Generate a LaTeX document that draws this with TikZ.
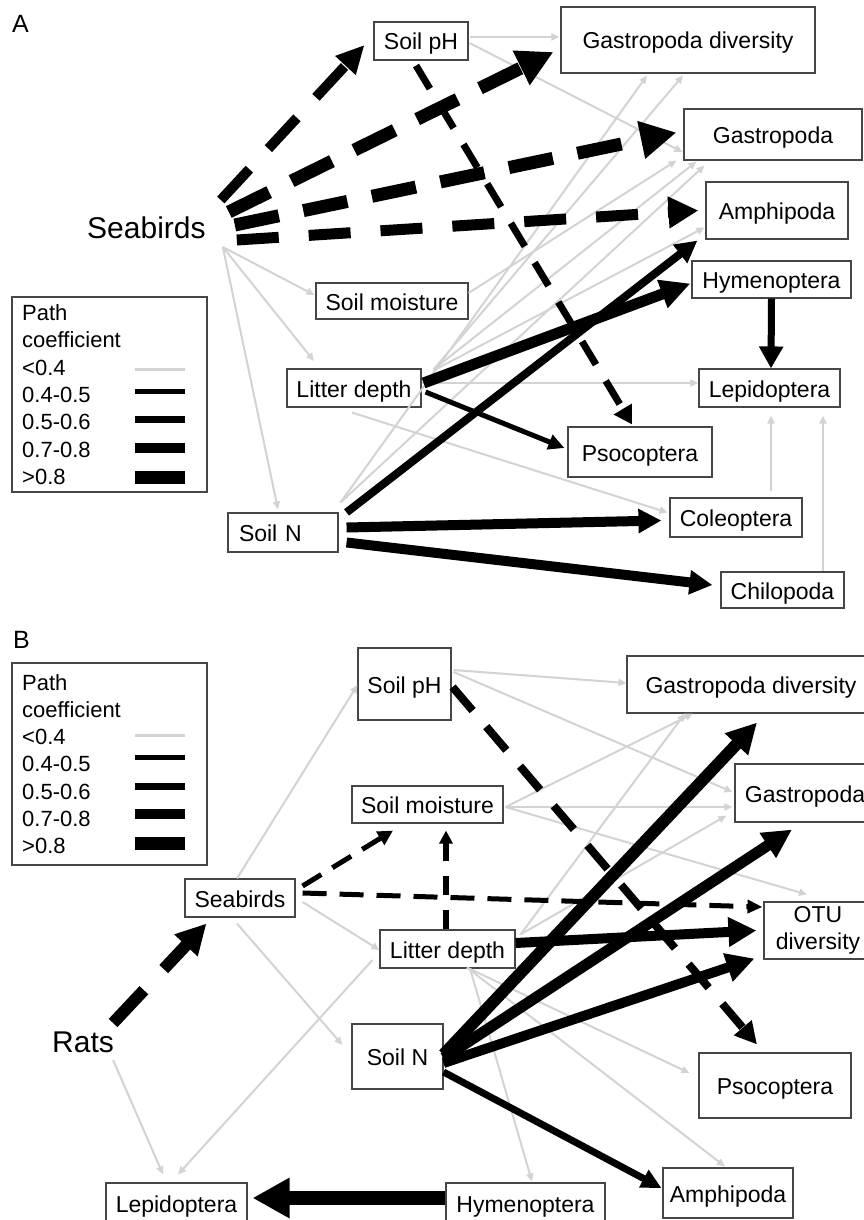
\documentclass[tikz,border=0pt]{standalone}
\usepackage{fontspec}
\setmainfont{Liberation Sans}
\usetikzlibrary{arrows.meta}
\definecolor{lg}{RGB}{211,211,211}
\definecolor{bd}{RGB}{70,70,70}
\begin{document}
\begin{tikzpicture}[x=1pt,y=-1pt,
  box/.style={draw=bd, line width=1.1pt, inner sep=0pt, font=\fontsize{23pt}{27pt}\selectfont, text height=18pt, text depth=0pt},
  box2/.style={draw=bd, line width=1.1pt, inner sep=0pt, align=center, font=\fontsize{23pt}{27pt}\selectfont},
  lab/.style={inner sep=0pt, anchor=base west, font=\fontsize{30pt}{34pt}\selectfont},
  leg/.style={inner sep=0pt, anchor=base west, font=\fontsize{22pt}{26pt}\selectfont},
  gr/.style={draw=lg, line width=2pt, -{Triangle[length=8pt,width=7pt]}},
  blk/.style={draw=black, line width=#1},
  hd/.style 2 args={-{Triangle[length=#1,width=#2]}}]
\useasboundingbox (0,0) rectangle (864,1220);

% ---------------- Panel A ----------------
\node[inner sep=0pt, anchor=base west, font=\fontsize{25pt}{30pt}\selectfont] (labA) at (12,33) {A};
\node[lab] (sbA) at (87,238) {Seabirds};
\node[box, minimum width=94pt, minimum height=38pt] (phA) at (421,41) {Soil pH};
\node[box, minimum width=254pt, minimum height=66pt] (gdA) at (688,40) {Gastropoda diversity};
\node[box, minimum width=178pt, minimum height=51pt] (gaA) at (773,134.5) {Gastropoda};
\node[box, minimum width=142pt, minimum height=57pt] (amA) at (777,210.5) {Amphipoda};
\node[box, minimum width=159pt, minimum height=37pt] (hyA) at (771.5,279.5) {Hymenoptera};
\node[box, minimum width=141pt, minimum height=38pt] (leA) at (769.5,388) {Lepidoptera};
\node[box, minimum width=144pt, minimum height=50pt] (psA) at (640,452) {Psocoptera};
\node[box, minimum width=132pt, minimum height=39pt] (coA) at (736,517.5) {Coleoptera};
\node[box, minimum width=123pt, minimum height=36pt] (chA) at (782.5,590) {Chilopoda};
\node[box, minimum width=152pt, minimum height=36pt] (smA) at (392,301) {Soil moisture};
\node[box, minimum width=134pt, minimum height=38pt] (ldA) at (354,388) {Litter depth};
\node[box, minimum height=39pt, inner xsep=11pt, text width=88pt, align=left] (snA) at (283,532.5) {Soil N};

% legend A
\node[draw=bd, line width=1.1pt, minimum width=195pt, minimum height=195pt, inner sep=0pt] (legA) at (109.5,394.5) {};
\node[leg] (lA1) at (22,320) {Path};
\node[leg] (lA2) at (22,347) {coefficient};
\node[leg] (lA3) at (22,375) {<0.4};
\node[leg] (lA4) at (22,402) {0.4-0.5};
\node[leg] (lA5) at (22,429) {0.5-0.6};
\node[leg] (lA6) at (22,457) {0.7-0.8};
\node[leg] (lA7) at (22,484) {>0.8};
\draw[lg, line width=3pt] (135,369) -- (185,369);
\draw[black, line width=5pt] (135,391) -- (185,391);
\draw[black, line width=7pt] (135,419) -- (185,419);
\draw[black, line width=10pt] (135,448) -- (185,448);
\draw[black, line width=13pt] (135,477) -- (185,477);

% gray paths A
\draw[gr] ([shift={(17,9)}]sbA.base east) -- ([shift={(-1,-6)}]smA.west);
\draw[gr] ([shift={(17,9)}]sbA.base east) -- ([shift={(-40,-27)}]ldA.center);
\draw[gr] ([shift={(17,9)}]sbA.base east) -- ([shift={(-5,-3)}]snA.north);
\draw[gr] ([shift={(1,-4)}]phA.east) -- ([shift={(-1,-3)}]gdA.west);
\draw[gr] ([shift={(1,2)}]phA.east) -- ([shift={(-1,17.5)}]gaA.west);
\draw[gr] ([shift={(2,-10)}]snA.north east) -- ([shift={(-41,2)}]gdA.south);
\draw[gr] ([shift={(12,1)}]ldA.north east) -- ([shift={(-5,2)}]gdA.south);
\draw[gr] ([shift={(0,-8)}]smA.east) -- ([shift={(-7,0)}]gaA.south west);
\draw[gr] ([shift={(12,1)}]ldA.north east) -- ([shift={(13,1)}]gaA.south west);
\draw[gr] ([shift={(2,-10)}]snA.north east) -- ([shift={(21,5)}]gaA.south west);
\draw[gr] ([shift={(12,2)}]ldA.north east) -- ([shift={(-1,17)}]amA.west);
\draw[gr] ([shift={(0,-5)}]ldA.east) -- ([shift={(0,-5)}]leA.west);
\draw[gr] ([shift={(-2,5)}]ldA.south) -- ([shift={(-2,-5)}]coA.west);
\draw[gr] ([shift={(35,-6)}]coA.north) -- ([shift={(1.5,8)}]leA.south);
\draw[gr] ([shift={(40.5,0)}]chA.north) -- ([shift={(53.5,8)}]leA.south);

% black paths A
\draw[blk=10pt, hd={28pt}{26pt}, dash pattern=on 42pt off 28pt] ([shift={(15,-38)}]sbA.base east) -- ([shift={(-9,4)}]phA.west);
\draw[blk=13pt, hd={36pt}{36pt}, dash pattern=on 45pt off 25pt] ([shift={(23,-26)}]sbA.base east) -- ([shift={(-7,12)}]gdA.west);
\draw[blk=13pt, hd={36pt}{36pt}, dash pattern=on 45pt off 25pt] ([shift={(29,-13)}]sbA.base east) -- ([shift={(-7,-2)}]gaA.west);
\draw[blk=11pt, hd={30pt}{30pt}, dash pattern=on 42pt off 30pt] ([shift={(31,2)}]sbA.base east) -- ([shift={(-7,0)}]amA.west);
\draw[blk=7pt, hd={18pt}{20pt}, dash pattern=on 27pt off 19pt] ([shift={(-5,5)}]phA.south) -- ([shift={(-8,-2)}]psA.north);
\draw[blk=7pt, hd={22pt}{23pt}] (hyA.south) -- ([shift={(1.5,0)}]leA.north);
\draw[blk=11pt, hd={30pt}{28pt}] ([shift={(2,-5)}]ldA.east) -- ([shift={(-1,4)}]hyA.west);
\draw[blk=5pt, hd={16pt}{15pt}] ([shift={(4,4)}]ldA.east) -- ([shift={(-3,-4)}]psA.west);
\draw[blk=8pt, hd={22pt}{22pt}] ([shift={(8,0)}]snA.north east) -- ([shift={(-8,1)}]amA.south west);
\draw[blk=10pt, hd={23pt}{23pt}] ([shift={(8,-5)}]snA.east) -- ([shift={(-8,3)}]coA.west);
\draw[blk=10pt, hd={23pt}{23pt}] ([shift={(8,10)}]snA.east) -- ([shift={(-8,-5)}]chA.west);

% ---------------- Panel B ----------------
\node[inner sep=0pt, anchor=base west, font=\fontsize{25pt}{30pt}\selectfont] (labB) at (13,648) {B};
\node[lab] (rats) at (52,1052) {Rats};
\node[box, minimum width=93pt, minimum height=72pt] (phB) at (404.5,684) {Soil pH};
\node[box, minimum width=248pt, minimum height=57pt] (gdB) at (751,684.5) {Gastropoda diversity};
\node[box, minimum width=140pt, minimum height=58pt] (gaB) at (805,793) {Gastropoda};
\node[box2, minimum width=108pt, minimum height=57pt] (otuB) at (818,930.5) {OTU\\diversity};
\node[box, minimum width=151pt, minimum height=37pt] (smB) at (427.5,804.5) {Soil moisture};
\node[box, minimum width=110pt, minimum height=38pt] (sbB) at (240,898) {Seabirds};
\node[box, minimum width=135pt, minimum height=38pt] (ldB) at (447.5,949) {Litter depth};
\node[box, minimum width=91pt, minimum height=65pt] (snB) at (397.5,1056.5) {Soil N};
\node[box, minimum width=152pt, minimum height=65pt] (psB) at (775,1085.5) {Psocoptera};
\node[box, minimum width=130pt, minimum height=50pt] (amB) at (728,1193) {Amphipoda};
\node[box, minimum width=159pt, minimum height=40pt] (hyB) at (525.5,1203) {Hymenoptera};
\node[box, minimum width=141pt, minimum height=40pt] (leB) at (176.5,1203) {Lepidoptera};

% legend B
\node[draw=bd, line width=1.1pt, minimum width=195pt, minimum height=202pt, inner sep=0pt] (legB) at (109.5,764) {};
\node[leg] (lB1) at (22,690) {Path};
\node[leg] (lB2) at (22,717) {coefficient};
\node[leg] (lB3) at (22,744) {<0.4};
\node[leg] (lB4) at (22,771) {0.4-0.5};
\node[leg] (lB5) at (22,799) {0.5-0.6};
\node[leg] (lB6) at (22,826) {0.7-0.8};
\node[leg] (lB7) at (22,853) {>0.8};
\draw[lg, line width=3pt] (135,735) -- (185,735);
\draw[black, line width=5pt] (135,757) -- (185,757);
\draw[black, line width=7pt] (135,786) -- (185,786);
\draw[black, line width=10pt] (135,814) -- (185,814);
\draw[black, line width=13pt] (135,843) -- (185,843);

% gray paths B
\draw[gr] ([shift={(-3,0)}]sbB.north) -- ([shift={(0,1)}]phB.west);
\draw[gr] ([shift={(7,4)}]sbB.east) -- ([shift={(0,1)}]ldB.west);
\draw[gr] ([shift={(-3,6)}]sbB.south) -- ([shift={(-9,-11.5)}]snB.west);
\draw[gr] ([shift={(-1,8)}]rats.base east) -- ([shift={(-13.5,-8)}]leB.north);
\draw[gr] ([shift={(-7,11)}]ldB.west) -- ([shift={(1.5,-8)}]leB.north);
\draw[gr] ([shift={(2,-14)}]phB.east) -- ([shift={(0,-1.5)}]gdB.west);
\draw[gr] ([shift={(2,-12)}]phB.east) -- ([shift={(-2,-1)}]gaB.west);
\draw[gr] ([shift={(2,2.5)}]smB.east) -- ([shift={(-58,0)}]gdB.south);
\draw[gr] ([shift={(2,2.5)}]smB.east) -- ([shift={(-2,14)}]gaB.west);
\draw[gr] ([shift={(2,2.5)}]smB.east) -- ([shift={(-11,-7)}]otuB.north);
\draw[gr] ([shift={(5,5)}]ldB.north east) -- ([shift={(-66,0)}]gdB.south);
\draw[gr] ([shift={(5,5)}]ldB.north east) -- ([shift={(-8,-7)}]gaB.south west);
\draw[gr] ([shift={(19.5,-1)}]ldB.south) -- ([shift={(-9,-12.5)}]psB.west);
\draw[gr] ([shift={(19.5,-1)}]ldB.south) -- ([shift={(-3,-1)}]amB.north);
\draw[gr] ([shift={(22.5,0)}]ldB.south) -- ([shift={(6.5,-1)}]hyB.north);

% black paths B
\draw[blk=12pt, hd={30pt}{30pt}, dash pattern=on 45pt off 29pt] ([shift={(-1,-29)}]rats.base east) -- ([shift={(22,6)}]sbB.south west);
\draw[blk=5pt, hd={15pt}{15pt}, dash pattern=on 22pt off 13pt] ([shift={(7,-12)}]sbB.east) -- ([shift={(-34.5,7)}]smB.south);
\draw[blk=5pt, hd={15pt}{13pt}, dash pattern=on 24pt off 13pt] ([shift={(7,-5)}]sbB.east) -- ([shift={(-1,-23.5)}]otuB.west);
\draw[blk=6pt, hd={13pt}{13pt}, dash pattern=on 19pt off 15pt] ([shift={(-1.5,0)}]ldB.north) -- ([shift={(18.5,7)}]smB.south);
\draw[blk=8pt, hd={22pt}{22pt}, dash pattern=on 31pt off 21pt] ([shift={(1,3)}]phB.east) -- ([shift={(-18,-8)}]psB.north);
\draw[blk=10pt, hd={28pt}{28pt}] ([shift={(0,-6)}]ldB.east) -- ([shift={(-7,0)}]otuB.west);
\draw[blk=12pt, hd={30pt}{30pt}] ([shift={(0,-2)}]snB.east) -- ([shift={(6,9)}]gdB.south);
\draw[blk=11pt, hd={29pt}{28pt}] ([shift={(0,1.5)}]snB.east) -- ([shift={(-13,7)}]gaB.south);
\draw[blk=10pt, hd={28pt}{28pt}] ([shift={(0,6.5)}]snB.east) -- ([shift={(-9,-1)}]otuB.south west);
\draw[blk=7pt, hd={20pt}{19pt}] ([shift={(0,15.5)}]snB.east) -- ([shift={(-1,-5)}]amB.west);
\draw[blk=14pt, hd={37pt}{38pt}] ([shift={(0,-5)}]hyB.west) -- ([shift={(5,-5)}]leB.east);
\end{tikzpicture}
\end{document}
